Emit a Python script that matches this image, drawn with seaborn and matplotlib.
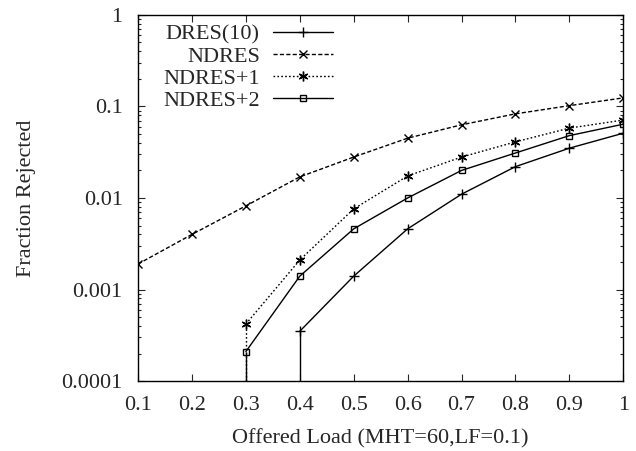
#!/usr/bin/env python3
"""Fraction of rejected requests vs offered load (log scale)."""
import numpy as np
import pandas as pd
import matplotlib
matplotlib.use("Agg")
import matplotlib.pyplot as plt
import seaborn as sns
from matplotlib.ticker import FixedLocator, FuncFormatter, LogLocator, NullFormatter

# Data
load = [0.1, 0.2, 0.3, 0.4, 0.5, 0.6, 0.7, 0.8, 0.9, 1.0]
dres10 = [np.nan, np.nan, np.nan, 0.00035, 0.0014, 0.0046, 0.011, 0.022, 0.035, 0.051]
ndres = [0.0019, 0.0040, 0.0082, 0.017, 0.028, 0.045, 0.063, 0.083, 0.102, 0.124]
ndres_p1 = [np.nan, np.nan, 0.00042, 0.0021, 0.0076, 0.0174, 0.028, 0.041, 0.058, 0.071]
ndres_p2 = [np.nan, np.nan, 0.00021, 0.0014, 0.0046, 0.010, 0.020, 0.031, 0.048, 0.064]

x_ticks = [0.1, 0.2, 0.3, 0.4, 0.5, 0.6, 0.7, 0.8, 0.9, 1.0]
y_ticks = [0.0001, 0.001, 0.01, 0.1, 1]
y_tick_labels = ["0.0001", "0.001", "0.01", "0.1", "1"]

series = [
    ("DRES(10)", dres10, "-", "+", 7),
    ("NDRES", ndres, (0, (3.0, 1.6)), "x", 6),
    ("NDRES+1", ndres_p1, (0, (1.2, 1.6)), (6, 2, 0), 7),
    ("NDRES+2", ndres_p2, "-", "s", 5),
]


def main():
    sns.set_style("ticks")
    plt.rcParams["font.family"] = ["Liberation Serif", "DejaVu Serif"]
    plt.rcParams["font.size"] = 16

    fig = plt.figure(figsize=(6.36, 4.51), dpi=100)
    ax = fig.add_axes([0.217, 0.155, 0.763, 0.812])

    y_min, y_max = 0.0001, 1

    for name, vals, ls, marker, ms in series:
        df = pd.DataFrame({"load": load, "frac": vals}).dropna()
        sns.lineplot(data=df, x="load", y="frac", ax=ax, color="black",
                     linestyle=ls, linewidth=1.0, marker=marker, markersize=ms,
                     markerfacecolor="none", markeredgecolor="black",
                     markeredgewidth=1.0, label=name, estimator=None)
        # gnuplot draws the missing (zero) value as a drop to the floor
        first = df.iloc[0]
        if first["load"] > load[0]:
            ax.vlines(first["load"], y_min, first["frac"], colors="black",
                      linestyles=ls, linewidth=1.0)

    ax.set_yscale("log")
    ax.set_xlim(0.1, 1.0)
    ax.set_ylim(y_min, y_max)
    ax.xaxis.set_major_locator(FixedLocator(x_ticks))
    ax.xaxis.set_major_formatter(FuncFormatter(lambda v, p: f"{v:g}"))
    ax.yaxis.set_major_locator(FixedLocator(y_ticks))
    ax.set_yticklabels(y_tick_labels)
    ax.yaxis.set_minor_locator(LogLocator(base=10, subs=np.arange(2, 10)))
    ax.yaxis.set_minor_formatter(NullFormatter())

    ax.tick_params(which="both", direction="in", top=True, right=True,
                   width=0.8, labelsize=16)
    ax.tick_params(axis="y", pad=11)
    ax.tick_params(axis="x", pad=11)
    ax.tick_params(which="major", length=5)
    ax.tick_params(which="minor", length=2.5)
    for sp in ax.spines.values():
        sp.set_linewidth(1.0)
        sp.set_color("black")

    ax.set_xlabel("Offered Load (MHT=60,LF=0.1)", fontsize=16, labelpad=10)
    ax.set_ylabel("Fraction Rejected", fontsize=16, labelpad=18)

    ax.legend(loc="upper right", bbox_to_anchor=(0.402, 0.974), frameon=False,
              markerfirst=False, numpoints=1, handlelength=2.7,
              handletextpad=0.6, labelspacing=0.06, borderaxespad=0.0,
              borderpad=0.0, fontsize=16)

    fig.savefig("out.png", dpi=100)


if __name__ == "__main__":
    main()
